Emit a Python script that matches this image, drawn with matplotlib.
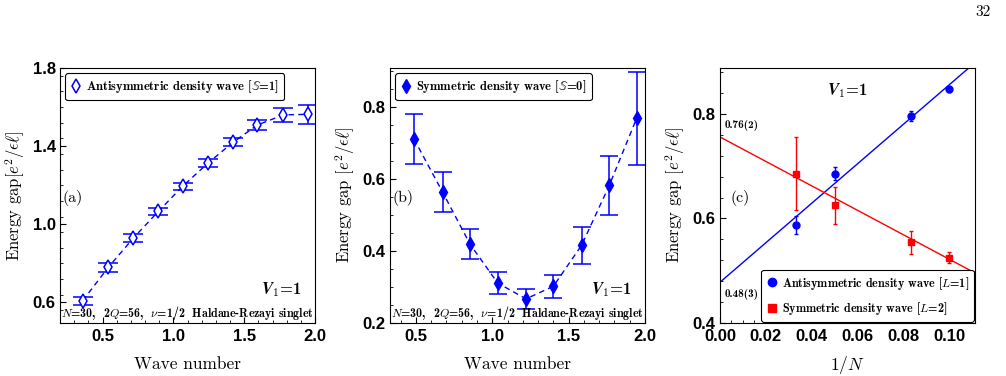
import numpy as np
import matplotlib
matplotlib.use("Agg")
import matplotlib.pyplot as plt
from matplotlib.lines import Line2D
from matplotlib.ticker import MultipleLocator

plt.rcParams['mathtext.fontset'] = 'cm'

# panel (a): antisymmetric density wave
k_a = [0.360, 0.541, 0.717, 0.894, 1.066, 1.247, 1.424, 1.593, 1.776, 1.953]
gap_a = [0.609, 0.780, 0.929, 1.066, 1.195, 1.315, 1.421, 1.508, 1.560, 1.563]
err_a = [0.020, 0.022, 0.020, 0.020, 0.018, 0.020, 0.020, 0.027, 0.035, 0.050]

# panel (b): symmetric density wave
k_b = [0.487, 0.675, 0.854, 1.035, 1.221, 1.400, 1.585, 1.766, 1.945]
gap_b = [0.711, 0.563, 0.419, 0.311, 0.267, 0.302, 0.416, 0.582, 0.768]
err_b = [0.069, 0.056, 0.041, 0.031, 0.028, 0.032, 0.051, 0.083, 0.130]

# panel (c): finite size extrapolation
inv_n = [1/30, 1/20, 1/12, 1/10]
gap_anti = [0.587, 0.686, 0.796, 0.847]
err_anti = [0.017, 0.012, 0.010, 0.005]
gap_sym = [0.686, 0.625, 0.555, 0.525]
err_sym = [0.070, 0.036, 0.022, 0.010]
fit_intercept = [0.478, 0.756]
fit_slope = [3.78, -2.34]

serif = 'cmr10'
serif_b = 'cmb10'

fig = plt.figure(figsize=(10.06, 3.76), dpi=100)
W, H = 1006, 376


def make_axes(left):
    ax = fig.add_axes([left / W, (H - 323) / H, 255 / W, 255 / H])
    ax.tick_params(which='both', direction='in', top=False, right=False)
    ax.tick_params(which='major', length=4, width=0.8, pad=3)
    ax.tick_params(axis='x', which='major', pad=4.5)
    ax.tick_params(which='minor', length=2, width=0.6)
    return ax


def style_ticks(ax):
    for lab in ax.get_xticklabels() + ax.get_yticklabels():
        lab.set_fontfamily('Liberation Sans')
        lab.set_fontweight('bold')
        lab.set_fontsize(12)


ylab = r'Energy gap$[e^2/\epsilon\ell]$'
ylab2 = r'Energy gap $[e^2/\epsilon\ell]$'
bottom_txt = r'$N$=30,  2$Q$=56,  $\nu$=1/2  Haldane-Rezayi singlet'
v1_txt = r'$\mathbfit{V}_{\mathbf{1}}$=1'

# ---- (a)
ax = make_axes(60)
ax.errorbar(k_a, gap_a, yerr=err_a, color='blue', ls='--', lw=1,
            marker='d', ms=7, mfc='white', mec='blue', mew=1.1,
            capsize=7, capthick=1.1, elinewidth=1.1, dashes=(4, 3))
ax.set_xlim(0.2, 2.0)
ax.set_ylim(0.495, 1.8)
ax.set_xticks([0.5, 1.0, 1.5, 2.0])
ax.set_yticks([0.6, 1.0, 1.4, 1.8])
ax.xaxis.set_minor_locator(MultipleLocator(0.1))
ax.yaxis.set_minor_locator(MultipleLocator(0.08))
style_ticks(ax)
h = Line2D([], [], ls='none', marker='d', ms=7, mfc='white', mec='blue', mew=1.1)
leg = ax.legend([h], [r'Antisymmetric density wave [$\mathbb{S}$=1]'], loc='upper left',
                prop=dict(family=serif_b, size=9), frameon=True, fancybox=True,
                edgecolor='black', framealpha=1, handletextpad=0.3,
                borderaxespad=0.4, handlelength=1.0)
leg.get_frame().set_linewidth(0.8)
ax.text(0.01, 0.49, '(a)', transform=ax.transAxes, family=serif, fontsize=11.5, va='center')
ax.text(0.87, 0.13, v1_txt, transform=ax.transAxes, family=serif_b, fontsize=12, ha='center', va='center')
ax.text(0.5, 0.04, bottom_txt, transform=ax.transAxes, family=serif_b, fontsize=8.6, ha='center', va='center')
ax.set_xlabel('Wave number', family=serif, fontsize=12.5, labelpad=9)
ax.set_ylabel(ylab, family=serif, fontsize=12, labelpad=4)

# ---- (b)
ax = make_axes(390)
ax.errorbar(k_b, gap_b, yerr=err_b, color='blue', ls='--', lw=1,
            marker='d', ms=7, mfc='blue', mec='blue',
            capsize=6.5, capthick=1.1, elinewidth=1.1, dashes=(4, 3))
ax.set_xlim(0.33, 2.0)
ax.set_ylim(0.2, 0.908)
ax.set_xticks([0.5, 1.0, 1.5, 2.0])
ax.set_yticks([0.2, 0.4, 0.6, 0.8])
ax.xaxis.set_minor_locator(MultipleLocator(0.1))
ax.yaxis.set_minor_locator(MultipleLocator(0.05))
style_ticks(ax)
h = Line2D([], [], ls='none', marker='d', ms=7, mfc='blue', mec='blue')
leg = ax.legend([h], [r'Symmetric density wave [$\mathbb{S}$=0]'], loc='upper left',
                prop=dict(family=serif_b, size=9), frameon=True, fancybox=True,
                edgecolor='black', framealpha=1, handletextpad=0.3,
                borderaxespad=0.4, handlelength=1.0)
leg.get_frame().set_linewidth(0.8)
ax.text(0.01, 0.49, '(b)', transform=ax.transAxes, family=serif, fontsize=11.5, va='center')
ax.text(0.87, 0.13, v1_txt, transform=ax.transAxes, family=serif_b, fontsize=12, ha='center', va='center')
ax.text(0.5, 0.04, bottom_txt, transform=ax.transAxes, family=serif_b, fontsize=8.6, ha='center', va='center')
ax.set_xlabel('Wave number', family=serif, fontsize=12.5, labelpad=9)
ax.set_ylabel(ylab2, family=serif, fontsize=12, labelpad=4)

# ---- (c)
ax = make_axes(720)
xfit = np.array([0.0, 0.12])
ax.plot(xfit, fit_intercept[0] + fit_slope[0] * xfit, color='blue', lw=1)
ax.plot(xfit, fit_intercept[1] + fit_slope[1] * xfit, color='red', lw=1)
ax.errorbar(inv_n, gap_anti, yerr=err_anti, color='blue', ls='none', marker='o', ms=5,
            capsize=1.5, elinewidth=1)
ax.errorbar(inv_n, gap_sym, yerr=err_sym, color='red', ls='none', marker='s', ms=5,
            capsize=1.5, elinewidth=1)
ax.set_xlim(0, 0.1112)
ax.set_ylim(0.4, 0.888)
ax.set_xticks([0.0, 0.02, 0.04, 0.06, 0.08, 0.10])
ax.set_xticklabels(['0.00', '0.02', '0.04', '0.06', '0.08', '0.10'])
ax.set_yticks([0.4, 0.6, 0.8])
ax.xaxis.set_minor_locator(MultipleLocator(0.005))
ax.yaxis.set_minor_locator(MultipleLocator(0.04))
style_ticks(ax)
hb = Line2D([], [], ls='none', marker='o', ms=6, color='blue')
hr = Line2D([], [], ls='none', marker='s', ms=5.5, color='red')
leg = ax.legend([hb, hr], ['Antisymmetric density wave [$L$=1]', 'Symmetric density wave [$L$=2]'],
                loc='lower right', prop=dict(family=serif_b, size=8.7), frameon=True,
                fancybox=True, edgecolor='black', framealpha=1, handletextpad=0.3,
                borderaxespad=0.1, handlelength=1.0, labelspacing=0.7)
leg.get_frame().set_linewidth(0.8)
ax.text(0.002, fit_intercept[1] + 0.012, '0.76(2)', family=serif_b, fontsize=8, va='bottom')
ax.text(0.002, fit_intercept[0] - 0.012, '0.48(3)', family=serif_b, fontsize=8, va='top')
ax.text(0.04, 0.49, '(c)', transform=ax.transAxes, family=serif, fontsize=11.5, va='center')
ax.text(0.5, 0.91, v1_txt, transform=ax.transAxes, family=serif_b, fontsize=12, ha='center', va='center')
ax.set_xlabel('1/$N$', family=serif, fontsize=12.5, labelpad=7)
ax.set_ylabel(ylab2, family=serif, fontsize=12, labelpad=4)

fig.text(983 / W, 1 - 12 / H, '32', family=serif, fontsize=11, ha='center', va='center')

fig.savefig('out.png', dpi=100)
